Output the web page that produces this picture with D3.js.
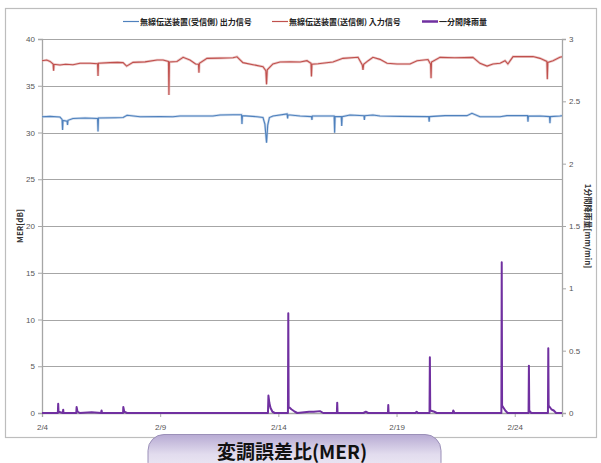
<!DOCTYPE html>
<html><head><meta charset="utf-8">
<script src="https://cdn.jsdelivr.net/npm/d3@7"></script>
<style>
body{margin:0;background:#fff;}
svg{display:block;font-family:"Noto Sans CJK JP","Noto Sans",sans-serif;}
</style></head>
<body>
<svg id="c" width="601" height="463"></svg>
<script>
// ---- data (day offset from 2/4 00:00, value) ----
const xTickDays = [0, 5, 10, 15, 20];
const xTickLabels = ["2/4", "2/9", "2/14", "2/19", "2/24"];
const leftTicks = [0, 5, 10, 15, 20, 25, 30, 35, 40];
const rightTicks = [0, 0.5, 1, 1.5, 2, 2.5, 3];
const seriesNames = ["無線伝送装置(受信側) 出力信号", "無線伝送装置(送信側) 入力信号", "一分間降雨量"];

const redSeries = [
[0,37.68],[0.2,37.75],[0.34,37.6],[0.47,37.33],[0.49,36.6],[0.51,37.3],[0.76,37.22],[1.0,37.3],[1.31,37.25],[1.61,37.4],
[2.03,37.4],[2.35,37.35],[2.37,36.04],[2.39,37.4],[2.88,37.47],[3.2,37.5],[3.43,37.47],[3.58,37.1],[3.85,37.5],
[4.36,37.55],[4.87,37.75],[5.12,37.75],[5.35,37.6],[5.37,34.0],[5.39,37.55],[5.71,37.6],[5.97,38.04],
[6.26,37.75],[6.5,37.33],[6.62,37.3],[6.64,36.4],[6.66,37.4],[6.98,37.93],[7.53,37.95],[8.08,38.0],[8.25,38.1],
[8.5,37.47],[8.93,37.25],[9.35,37.04],[9.47,36.6],[9.5,35.15],[9.53,36.7],[9.77,37.33],[10.07,37.54],
[10.5,37.55],[10.92,37.54],[11.21,37.68],[11.38,37.4],[11.4,36.0],[11.42,37.3],[11.68,37.35],[12.31,37.54],[12.73,37.93],
[13.37,38.04],[13.55,37.22],[13.58,36.7],[13.61,37.3],[13.8,37.68],[14.0,38.04],[14.3,37.82],
[14.6,37.4],[15.02,37.33],[15.57,37.33],[15.87,37.68],[16.33,37.8],[16.44,37.3],[16.46,35.8],
[16.48,37.54],[16.84,38.04],[17.47,38.0],[18.23,38.04],[18.53,37.4],[18.83,37.1],[19.08,37.33],
[19.38,37.4],[19.59,37.68],[19.71,37.33],[19.93,38.12],[20.77,38.12],[21.07,37.93],[21.36,37.6],
[21.38,35.7],[21.4,37.5],[21.62,37.68],[21.91,38.04],[22.0,38.1]
];

const blueSeries = [
[0,31.69],[0.34,31.72],[0.76,31.65],[0.85,31.4],[0.87,30.27],[0.89,31.3],[1.06,31.2],[1.08,30.8],[1.1,31.3],
[1.31,31.5],[1.82,31.55],[2.35,31.5],[2.37,30.1],[2.39,31.55],[3.09,31.58],[3.43,31.6],[3.6,31.84],
[4.15,31.69],[4.99,31.7],[5.54,31.69],[5.84,31.76],[6.68,31.76],[7.23,31.76],[7.53,31.87],[8.08,31.9],
[8.44,31.9],[8.46,30.9],[8.48,31.8],[9.1,31.69],[9.35,31.6],[9.43,30.9],[9.5,28.9],[9.55,30.8],
[9.62,31.6],[9.77,31.76],[10.37,31.98],[10.39,31.5],[10.41,31.9],[10.92,31.76],[11.4,31.7],[11.42,31.34],
[11.44,31.76],[12.36,31.76],[12.38,29.98],[12.4,31.7],[12.66,31.7],[12.68,30.7],[12.7,31.7],[13.03,31.87],
[13.62,31.8],[13.64,31.35],[13.66,31.8],[14.0,31.87],[14.3,31.76],[15.15,31.72],[16.36,31.7],
[16.38,31.16],[16.4,31.7],[17.05,31.8],[17.98,31.8],[18.19,32.05],[18.53,31.69],[19.38,31.69],
[19.67,31.8],[20.54,31.8],[20.56,31.16],[20.58,31.75],[21.07,31.76],[21.47,31.7],[21.49,31.0],[21.51,31.7],
[21.91,31.76],[22.0,31.8]
];

const rainSeries = [
[0,0],[0.67,0],[0.685,0.074],[0.7,0.01],[0.88,0],[0.897,0.027],[0.91,0],[1.45,0],[1.464,0.048],
[1.5,0.012],[1.6,0],[2.1,0.006],[2.5,0],[2.52,0.02],[2.54,0],[3.43,0],[3.44,0.048],[3.48,0.01],[3.6,0],
[9.56,0],[9.58,0.14],[9.62,0.08],[9.67,0.04],[9.75,0.01],[9.85,0],[10.405,0],[10.42,0.8],[10.435,0.05],
[10.55,0.03],[10.7,0.01],[10.8,0],[11.3,0.01],[11.5,0.01],[11.76,0.015],[11.9,0],[12.475,0],[12.49,0.083],
[12.505,0],[13.6,0],[13.7,0.01],[13.8,0],[14.635,0],[14.65,0.064],[14.665,0],[15.8,0],[15.85,0.01],[15.9,0],
[16.395,0],[16.41,0.447],[16.425,0.02],[16.6,0.01],[16.7,0],[17.38,0],[17.4,0.02],[17.45,0],[19.435,0],
[19.45,1.21],[19.465,0.06],[19.6,0.02],[19.7,0],[20.585,0],[20.6,0.38],[20.615,0.02],[20.7,0],[21.405,0],
[21.42,0.52],[21.435,0.06],[21.55,0.03],[21.65,0.02],[21.75,0],[22.0,0]
];

// ---- layout ----
const svg = d3.select("#c");
const L = 42, R = 562, T = 39, B = 413;
const x = d3.scaleLinear().domain([0, 22]).range([L, R]);
const yL = d3.scaleLinear().domain([0, 40]).range([B, T]);
const yR = d3.scaleLinear().domain([0, 3]).range([B, T]);

// outer border
svg.append("rect").attr("x", 5.5).attr("y", 8.5).attr("width", 591).attr("height", 429)
  .attr("fill", "#fff").attr("stroke", "#bdbdbd").attr("stroke-width", 1.2);

// gridlines
svg.append("g").selectAll("line").data(leftTicks.filter(d => d > 0)).join("line")
  .attr("x1", L).attr("x2", R).attr("y1", d => Math.round(yL(d)) + 0.5).attr("y2", d => Math.round(yL(d)) + 0.5)
  .attr("stroke", "#a6a6a6").attr("stroke-width", 1);

// left axis
const gL = svg.append("g").attr("transform", `translate(${L},0)`)
  .call(d3.axisLeft(yL).tickValues(leftTicks).tickSize(4).tickPadding(3));
// right axis
const gR = svg.append("g").attr("transform", `translate(${R},0)`)
  .call(d3.axisRight(yR).tickValues(rightTicks).tickSize(4).tickPadding(3).tickFormat(d3.format("")));
// bottom axis
const gB = svg.append("g").attr("transform", `translate(0,${B})`)
  .call(d3.axisBottom(x).tickValues(xTickDays).tickSize(4).tickPadding(7)
    .tickFormat((d, i) => xTickLabels[i]));
[gL, gR, gB].forEach(g => {
  g.select(".domain").attr("stroke", "#a6a6a6").attr("stroke-width", 1.3);
  g.selectAll(".tick line").attr("stroke", "#a6a6a6");
  g.selectAll("text").attr("fill", "#555").attr("font-size", 8).attr("font-family", "Liberation Sans, Arial, sans-serif");
});
gB.selectAll("text").attr("text-anchor", "middle");

// axis titles
svg.append("text").attr("transform", "translate(23,226) rotate(-90)").attr("text-anchor", "middle")
  .attr("font-size", 8).attr("font-weight", "bold").attr("fill", "#333").text("MER[dB]");
svg.append("text").attr("transform", "translate(585,226) rotate(90)").attr("text-anchor", "middle")
  .attr("font-size", 8).attr("font-weight", "bold").attr("fill", "#333").text("1分間降雨量[mm/min]");

// lines
const lineL = d3.line().x(d => x(d[0])).y(d => yL(d[1]));
const lineR = d3.line().x(d => x(d[0])).y(d => yR(d[1]));
const plot = svg.append("g");
plot.append("path").datum(redSeries).attr("d", lineL).attr("fill", "none")
  .attr("stroke", "#e0a9a7").attr("stroke-width", 2.6).attr("stroke-opacity", 0.6);
plot.append("path").datum(redSeries).attr("d", lineL).attr("fill", "none")
  .attr("stroke", "#c0504d").attr("stroke-width", 1.1);
plot.append("path").datum(blueSeries).attr("d", lineL).attr("fill", "none")
  .attr("stroke", "#a7c0df").attr("stroke-width", 2.4).attr("stroke-opacity", 0.6);
plot.append("path").datum(blueSeries).attr("d", lineL).attr("fill", "none")
  .attr("stroke", "#4f81bd").attr("stroke-width", 1.1);
plot.append("path").datum(rainSeries).attr("d", lineR).attr("fill", "none")
  .attr("stroke", "#7030a0").attr("stroke-width", 2.0).attr("stroke-linejoin", "round");

// legend
const legendItems = [
  {name: seriesNames[0], color: "#4f81bd", x: 123, w: 1.2},
  {name: seriesNames[1], color: "#c0504d", x: 272, w: 1.2},
  {name: seriesNames[2], color: "#7030a0", x: 422, w: 2.5}
];
const lg = svg.append("g").selectAll("g").data(legendItems).join("g")
  .attr("transform", d => `translate(${d.x},21.5)`);
lg.append("line").attr("x1", 0).attr("x2", 16).attr("stroke", d => d.color).attr("stroke-width", d => d.w);
lg.append("text").attr("x", 17).attr("y", 3).attr("font-size", 8).attr("fill", "#222")
  .attr("font-weight", "bold").text(d => d.name);

// title pill
const defs = svg.append("defs");
const grad = defs.append("linearGradient").attr("id", "pg").attr("x1", 0).attr("y1", 0).attr("x2", 0).attr("y2", 1);
grad.append("stop").attr("offset", "0%").attr("stop-color", "#b7aad3");
grad.append("stop").attr("offset", "45%").attr("stop-color", "#e2dcee");
grad.append("stop").attr("offset", "100%").attr("stop-color", "#f3f0f8");
svg.append("rect").attr("x", 148).attr("y", 434.5).attr("width", 293).attr("height", 44).attr("rx", 16)
  .attr("fill", "url(#pg)").attr("stroke", "#9b90b8").attr("stroke-width", 1);
svg.append("text").attr("x", 292).attr("y", 459).attr("text-anchor", "middle")
  .attr("font-size", 19).attr("font-weight", "bold").attr("fill", "#111").text("変調誤差比(MER)");
</script>
</body></html>
